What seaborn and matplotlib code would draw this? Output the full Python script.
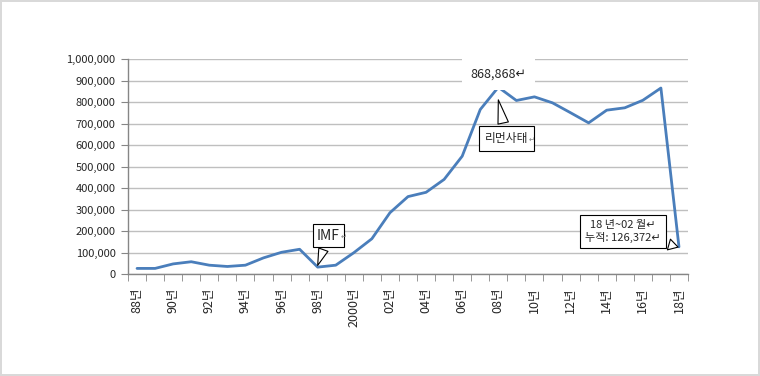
import matplotlib
matplotlib.use('Agg')
import matplotlib.pyplot as plt
import numpy as np
import pandas as pd
import seaborn as sns
from matplotlib.text import Text
from matplotlib.ticker import MultipleLocator, FuncFormatter

# yearly counts, 1988 ~ 2018 (2018 = Jan~Feb only)
years = list(range(1988, 2019))
counts = [26000, 26000, 47000, 57000, 41000, 35000, 41000, 75000, 101000, 115000,
          32000, 41000, 99000, 164000, 285000, 360000, 380000, 440000, 548000, 765000,
          868868, 807000, 824000, 796000, 750000, 703000, 762000, 773000, 808000, 865000,
          126372]
tick_labels = ['88년', '90년', '92년', '94년', '96년', '98년', '2000년', '02년',
               '04년', '06년', '08년', '10년', '12년', '14년', '16년', '18년']

df = pd.DataFrame({'pos': np.arange(len(years)), 'count': counts})

sns.set_style('white')
plt.rcParams['font.family'] = ['Noto Sans CJK KR', 'DejaVu Sans']

fig = plt.figure(figsize=(7.6, 3.76), dpi=100)
fig.patch.set_edgecolor('#d9d9d9')
fig.patch.set_linewidth(1.5)
ax = fig.add_axes([128 / 760, 1 - 274 / 376, 560 / 760, 215 / 376])

sns.lineplot(data=df, x='pos', y='count', ax=ax, color='#4a7ebb', linewidth=2)

ax.set_xlim(-0.5, len(years) - 0.5)
ax.set_ylim(0, 1000000)
ax.yaxis.set_major_locator(MultipleLocator(100000))
ax.yaxis.set_major_formatter(FuncFormatter(lambda v, p: f'{int(v):,}'))
ax.grid(axis='y', color='#bfbfbf', linewidth=1)
ax.set_axisbelow(True)
ax.set_xlabel('')
ax.set_ylabel('')

for s in ['top', 'right']:
    ax.spines[s].set_visible(False)
for s in ['left', 'bottom']:
    ax.spines[s].set_color('#868686')
    ax.spines[s].set_linewidth(1)

ax.set_xticks(df['pos'][::2])
ax.set_xticklabels(tick_labels, rotation=90, fontsize=9)
ax.set_xticks(np.arange(-0.5, len(years), 1), minor=True)
ax.tick_params(axis='x', which='major', length=0, pad=10)
ax.tick_params(axis='x', which='minor', length=5, color='#868686', direction='out', bottom=True)
ax.tick_params(axis='y', length=5, color='#868686', direction='out', left=True, labelsize=8, pad=4)

# value label at the peak
ax.text(20, 928000, '868,868↵', ha='center', va='center', fontsize=9,
        bbox=dict(boxstyle='square,pad=0.7', fc='white', ec='none'))


def bubble(text, tip, centre, size, tail, pad, small_mark=True):
    ann = ax.annotate(text, xy=tip, xytext=centre, ha='center', va='center',
                      fontsize=size, linespacing=1.3,
                      bbox=dict(boxstyle=f'square,pad={pad}', fc='white', ec='black', lw=0.8),
                      arrowprops=dict(arrowstyle=f'wedge,tail_width={tail},shrink_factor=0.5',
                                      fc='white', ec='black', lw=0.8, shrinkB=0))
    if small_mark:
        # little paragraph mark right after the text (text extent only, not the arrow)
        ax.annotate('↵', xy=(1, 0.4),
                    xycoords=lambda r, a=ann: Text.get_window_extent(a, r),
                    xytext=(0.5, 0), textcoords='offset points',
                    ha='left', va='center', fontsize=5, color='#808080')
    return ann


bubble('IMF', (10, 40000), (10.6, 179000), 10, 0.7, 0.3)
bubble('리먼사태', (20, 810000), (20.45, 630000), 8.5, 0.9, 0.5)
bubble('18 년~02 월↵\n누적: 126,372↵', (29.95, 125000), (26.9, 198000), 8, 1.0, 0.45,
       small_mark=False)

plt.savefig('out.png', dpi=100)
